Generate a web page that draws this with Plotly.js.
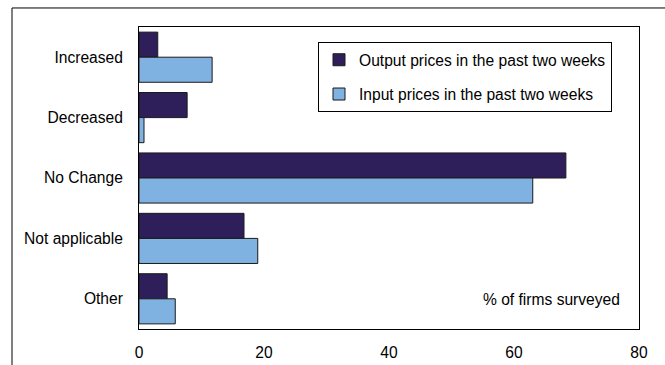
<!DOCTYPE html>
<html>
<head>
<meta charset="utf-8">
<script src="https://cdn.plot.ly/plotly-3.0.1.min.js"></script>
<style>html,body{margin:0;padding:0;background:#fff;}#chart{width:665px;height:365px;}</style>
</head>
<body>
<div id="chart"></div>
<script>
const categories = ["Increased", "Decreased", "No Change", "Not applicable", "Other"];
const outputPrices = [3.0, 7.7, 68.3, 16.8, 4.5];
const inputPrices = [11.7, 0.8, 63.0, 19.0, 5.8];
const seriesNames = ["Output prices in the past two weeks", "Input prices in the past two weeks"];
const xTicks = [0, 20, 40, 60, 80];
const titleText = "Output and input prices";
const unitNote = "% of firms surveyed";

const font = {family: "Liberation Sans, Arial, sans-serif", size: 15.6, color: "#000"};

const traces = [
  {type: "bar", orientation: "h", name: seriesNames[0], y: categories, x: outputPrices,
   legendgroup: "a",
   marker: {color: "#2E1F5B", line: {color: "#1a1a1a", width: 1}}},
  {type: "bar", orientation: "h", name: seriesNames[1], y: categories, x: inputPrices,
   legendgroup: "b",
   marker: {color: "#7FB1E1", line: {color: "#1a1a1a", width: 1}}}
];

const layout = {
  width: 665, height: 365,
  margin: {l: 139, r: 26, t: 27, b: 36, pad: 0},
  paper_bgcolor: "#fff", plot_bgcolor: "#fff",
  font: font,
  barmode: "group", bargap: 0.17, bargroupgap: 0,
  showlegend: true,
  legend: {x: 0.358, y: 0.95, xanchor: "left", yanchor: "top",
           bgcolor: "#fff", bordercolor: "#000", borderwidth: 1,
           font: font, traceorder: "grouped", tracegroupgap: 11},
  xaxis: {range: [0, 80], tickvals: xTicks, ticktext: xTicks.map(String),
          showgrid: false, zeroline: false, showline: true, mirror: true,
          linecolor: "#000", linewidth: 1, ticks: "", ticklabelstandoff: 9,
          tickfont: font, fixedrange: true},
  yaxis: {type: "category", autorange: "reversed", showgrid: false, zeroline: false,
          showline: true, mirror: true, linecolor: "#000", linewidth: 1,
          ticks: "", ticklabelstandoff: 12, tickfont: font, fixedrange: true},
  shapes: [
    {type: "rect", xref: "paper", yref: "paper", x0: -0.254, x1: 1.2, y0: -0.3, y1: 1.063,
     line: {color: "#000", width: 1}, fillcolor: "rgba(0,0,0,0)", layer: "below"}
  ],
  annotations: [
    {xref: "paper", yref: "paper", x: 0.966, y: 0.097, xanchor: "right", yanchor: "middle",
     text: unitNote, showarrow: false, font: font},
    {xref: "paper", yref: "paper", x: -0.145, y: 1.0855, xanchor: "left", yanchor: "bottom",
     text: "<b>" + titleText + "</b>", showarrow: false,
     font: {family: font.family, size: 21, color: "#00A0E3"}}
  ]
};

Plotly.newPlot("chart", traces, layout, {displayModeBar: false, staticPlot: true});
</script>
</body>
</html>
